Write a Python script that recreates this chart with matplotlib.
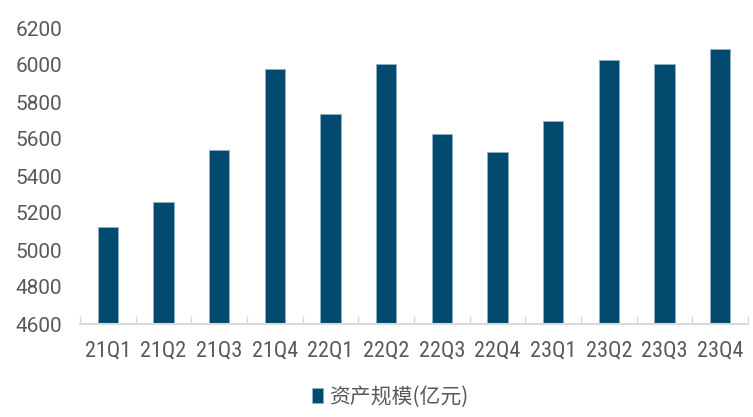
import matplotlib
matplotlib.use("Agg")
import matplotlib.pyplot as plt

categories = ["21Q1", "21Q2", "21Q3", "21Q4", "22Q1", "22Q2",
              "22Q3", "22Q4", "23Q1", "23Q2", "23Q3", "23Q4"]
values = [5125, 5260, 5540, 5980, 5735, 6003, 5627, 5530, 5698, 6028, 6003, 6088]
yticks = [4600, 4800, 5000, 5200, 5400, 5600, 5800, 6000, 6200]
legend_label = "资产规模(亿元)"

plt.rcParams['font.family'] = ['Roboto', 'Noto Sans CJK SC', 'DejaVu Sans']

bar_color = "#024A6E"
text_color = "#595959"

fig = plt.figure(figsize=(7.53, 4.17), dpi=100)
ax = fig.add_axes([80/753, 1-324/417, (748-80)/753, (324-28)/417])

x = list(range(len(categories)))
ax.bar(x, values, width=0.37, color=bar_color, edgecolor="#8fb0c2", linewidth=0.6,
       label=legend_label, zorder=2)
ax.set_ylim(4600, 6200)
ax.set_xlim(-0.5, len(categories)-0.5)
ax.set_yticks(yticks)
ax.set_yticklabels([str(v) for v in yticks], fontsize=15, color=text_color,
                   family=['Roboto', 'DejaVu Sans'])
ax.set_xticks(x)
ax.set_xticklabels(categories, fontsize=16, color=text_color,
                   family=['Roboto Condensed', 'DejaVu Sans'])
ax.tick_params(axis='x', length=0, pad=12)
ax.tick_params(axis='y', length=0, pad=13)
ax.set_xticks([i - 0.5 for i in range(len(categories)+1)], minor=True)
ax.tick_params(axis='x', which='minor', direction='in', length=6, color="#d9d9d9", width=1)
for s in ['top', 'right', 'left']:
    ax.spines[s].set_visible(False)
ax.spines['bottom'].set_color("#d9d9d9")
ax.spines['bottom'].set_linewidth(1.5)

leg = fig.legend(loc='center', bbox_to_anchor=(390/753, 1-397/417), frameon=False,
                 fontsize=15, handlelength=0.55, handleheight=0.75, handletextpad=0.3)
for t in leg.get_texts():
    t.set_color(text_color)
    t.set_fontfamily(['Noto Sans CJK SC', 'DejaVu Sans'])

fig.savefig("out.png", dpi=100)
